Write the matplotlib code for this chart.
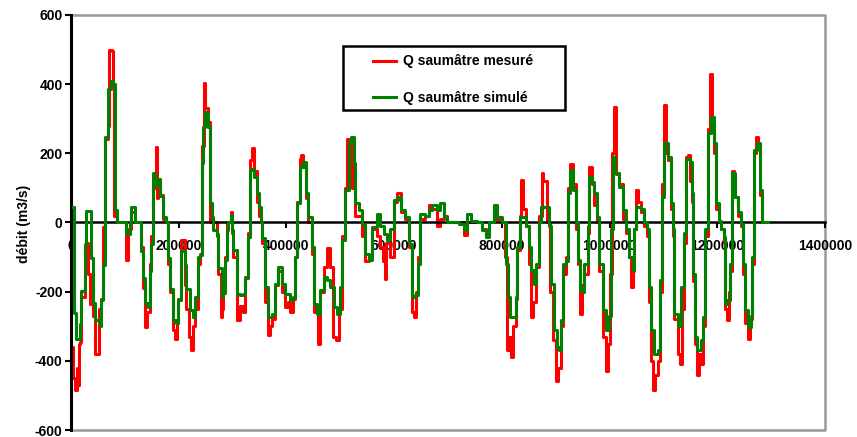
import matplotlib
matplotlib.use('Agg')
import matplotlib.pyplot as plt
from matplotlib.patches import Rectangle
from matplotlib.ticker import FuncFormatter
import numpy as np

# temps en kilosecondes et débits (m3/s)
t_mes_ks = [2, 4, 7, 11, 13, 15, 17, 19, 26, 28, 32, 35, 41, 45, 50, 52, 56, 59, 63, 69,
            71, 76, 78, 80, 85, 100, 102, 106, 111, 119, 128, 130, 134, 137, 141, 147, 149, 152, 156, 158,
            160, 162, 165, 171, 176, 180, 184, 189, 193, 197, 199, 204, 212, 214, 219, 223, 227, 230, 236, 240,
            243, 247, 249, 254, 258, 264, 271, 273, 279, 280, 282, 286, 290, 297, 299, 301, 308, 314, 319, 323,
            329, 332, 336, 340, 345, 349, 353, 355, 360, 366, 370, 373, 379, 384, 392, 397, 403, 407, 412, 416,
            420, 425, 427, 431, 436, 440, 448, 451, 459, 462, 470, 475, 481, 487, 492, 498, 503, 509, 513, 518,
            522, 527, 535, 540, 546, 553, 559, 568, 574, 579, 583, 585, 592, 600, 605, 613, 620, 628, 633, 637,
            641, 644, 648, 657, 665, 670, 680, 685, 693, 698, 721, 730, 735, 754, 763, 771, 776, 786, 800, 806,
            810, 813, 817, 821, 826, 828, 834, 836, 839, 845, 851, 854, 858, 864, 869, 875, 877, 884, 890, 895,
            901, 904, 910, 914, 919, 923, 927, 932, 938, 942, 945, 949, 953, 960, 962, 967, 971, 977, 980, 988,
            993, 997, 1001, 1005, 1008, 1012, 1018, 1025, 1031, 1036, 1040, 1044, 1045, 1049, 1053, 1058, 1064, 1070, 1073, 1077,
            1081, 1084, 1090, 1094, 1097, 1101, 1105, 1109, 1114, 1118, 1120, 1127, 1131, 1135, 1138, 1142, 1146, 1149, 1153, 1155,
            1159, 1162, 1166, 1170, 1174, 1177, 1183, 1187, 1190, 1194, 1198, 1203, 1207, 1213, 1214, 1218, 1222, 1224, 1227, 1231,
            1233, 1239, 1244, 1248, 1252, 1257, 1261, 1263, 1265, 1268, 1272, 1276, 1279, 1283, 1289]
q_mes = [-360, -450, -485, -420, -470, -350, -345, -215, -70, -60, -150, -235, -270, -380, -380, -250, -220, -13, 240, 280,
         500, 495, 390, 20, 0, 0, -109, -20, 30, 0, 0, -70, -190, -302, -260, -120, -40, 120, 100, 219,
         70, 100, 80, 10, 0, -120, -200, -312, -336, -290, -220, -50, -180, -250, -330, -370, -300, -250, -120, -90,
         220, 403, 330, 290, 0, 0, -40, -150, -273, -250, -200, -100, 0, 30, -30, -100, -283, -240, -260, -160,
         -30, 180, 214, 150, 60, 20, 0, -60, -230, -326, -300, -280, -180, -140, -200, -244, -230, -260, -220, -100,
         60, 185, 195, 160, 70, 0, -90, -260, -350, -200, -130, -75, -130, -330, -340, -250, -40, 100, 240, 240,
         100, 20, 20, -40, -110, -100, -20, -40, -70, -110, -162, -60, -100, 60, 84, 30, 10, -70, -260, -273,
         -200, -100, 10, 20, 50, 40, -10, 10, 20, 0, 0, -36, 0, 0, -20, -30, 0, 10, 0, -100,
         -370, -330, -390, -300, -220, -80, 20, 123, 40, -10, -120, -273, -230, -130, 20, 142, 120, 0, -200, -340,
         -457, -420, -300, -150, -100, 100, 170, 110, -20, -120, -264, -180, -150, -30, 160, 110, 50, 0, -140, -330,
         -428, -350, -150, 200, 335, 140, 110, 10, -30, -100, -186, -140, -20, 94, 60, 30, -10, -40, -230, -400,
         -485, -440, -400, -200, 110, 340, 200, 180, 40, -40, -280, -380, -408, -250, -60, 190, 195, 120, 60, -170,
         -350, -442, -380, -410, -300, -40, 270, 428, 280, 200, 40, 0, -20, -60, -250, -283, -200, -140, 150, 132,
         74, 20, -10, -150, -290, -336, -300, -280, -120, 200, 248, 220, 80, 0, 0]

t_sim_ks = [4, 6, 9, 17, 19, 26, 28, 35, 37, 41, 45, 54, 56, 59, 63, 69, 74, 78, 82, 85,
            100, 102, 110, 111, 119, 128, 130, 134, 137, 143, 147, 149, 152, 156, 162, 165, 171, 176, 180, 184,
            189, 195, 199, 204, 212, 214, 221, 227, 230, 236, 240, 243, 245, 249, 254, 258, 262, 264, 271, 273,
            280, 282, 286, 290, 292, 297, 299, 301, 308, 314, 319, 323, 329, 332, 336, 340, 345, 349, 353, 355,
            360, 366, 373, 379, 384, 392, 397, 407, 412, 416, 420, 425, 431, 436, 440, 448, 451, 457, 462, 470,
            475, 481, 488, 494, 500, 503, 509, 516, 520, 526, 527, 535, 540, 546, 553, 559, 568, 574, 581, 587,
            592, 600, 607, 613, 620, 628, 633, 639, 644, 648, 657, 665, 670, 680, 685, 693, 698, 711, 721, 730,
            735, 743, 754, 763, 771, 776, 786, 791, 800, 808, 812, 815, 821, 826, 828, 834, 838, 845, 851, 854,
            860, 864, 869, 873, 878, 888, 891, 897, 903, 906, 910, 914, 919, 923, 927, 932, 938, 942, 945, 951,
            953, 960, 962, 967, 971, 977, 980, 988, 993, 999, 1003, 1006, 1010, 1018, 1025, 1031, 1036, 1044, 1045, 1049,
            1058, 1064, 1070, 1073, 1077, 1083, 1090, 1094, 1097, 1101, 1109, 1114, 1118, 1120, 1127, 1133, 1138, 1142, 1149, 1153,
            1155, 1159, 1162, 1170, 1174, 1177, 1183, 1188, 1194, 1198, 1203, 1207, 1213, 1214, 1218, 1224, 1227, 1233, 1239, 1244,
            1248, 1252, 1257, 1263, 1265, 1268, 1274, 1279, 1283, 1294]
q_sim = [45, -263, -338, -293, -198, -63, 32, 32, -103, -233, -283, -298, -223, -123, 247, 387, 410, 400, 37, 0,
         0, -33, 0, 45, 0, 0, -83, -160, -233, -243, -140, -63, 142, 107, 127, 77, 17, 0, -103, -193,
         -283, -290, -223, -83, -123, -193, -253, -273, -215, -100, -95, 171, 277, 320, 277, 55, 16, -22, -32, -133,
         -215, -205, -109, -22, 0, 21, -22, -80, -206, -210, -206, -157, -42, 152, 156, 132, 84, 45, 0, -46,
         -186, -273, -265, -177, -128, -177, -206, -225, -215, -100, 55, 161, 176, 84, 16, -70, -235, -264, -196, -157,
         -165, -186, -244, -264, -186, -51, 94, 234, 248, 171, 55, 36, -3, -90, -109, -13, 26, -10, -32, -51,
         -20, 65, 74, 36, 16, -61, -215, -210, -119, 26, 20, 36, 50, 36, 55, 16, 0, 0, -3, -22,
         26, 5, 0, -22, -42, 0, 50, 16, 0, -119, -215, -273, -273, -215, -70, 16, 16, -10, -70, -138,
         -177, -119, 0, 45, 45, -10, -177, -312, -360, -370, -283, -119, -110, 84, 152, 94, 0, -109, -196, -200,
         -119, -10, 132, 118, 84, 16, -119, -254, -312, -270, -20, 190, 142, 103, 36, -20, -100, -138, -20, 45,
         40, 0, -20, -186, -312, -380, -370, -167, 74, 229, 190, 55, -20, -264, -300, -186, -30, 185, 175, 84,
         -148, -331, -370, -340, -273, -20, 258, 306, 229, 55, 5, -20, -42, -235, -225, -119, 142, 74, 31, -3,
         -119, -254, -302, -270, -100, 210, 229, 94, 0, 0]

assert len(t_mes_ks) == len(q_mes), (len(t_mes_ks), len(q_mes))
assert len(t_sim_ks) == len(q_sim), (len(t_sim_ks), len(q_sim))

t_mes = np.array(t_mes_ks) * 1000.0
t_sim = np.array(t_sim_ks) * 1000.0

plt.rcParams['font.family'] = ['Liberation Sans', 'DejaVu Sans']
plt.rcParams['font.weight'] = 'bold'
plt.rcParams['axes.unicode_minus'] = False

fig = plt.figure(figsize=(8.57, 4.37), dpi=100)
ax = fig.add_axes([0.0829, 0.0160, 0.8798, 0.9497])

ax.plot(t_mes, q_mes, color='#ff0000', lw=2.2, drawstyle='steps-post',
        label='Q saumâtre mesuré', zorder=2)
ax.plot(t_sim, q_sim, color='#008000', lw=2.2, drawstyle='steps-post',
        label='Q saumâtre simulé', zorder=3)

ax.set_xlim(0, 1400000)
ax.set_ylim(-600, 600)
ax.set_xticks(np.arange(0, 1400001, 200000))
ax.set_yticks(np.arange(-600, 601, 200))
ax.xaxis.set_major_formatter(FuncFormatter(lambda v, p: '%d' % v))

# axe des x passant par zéro
ax.spines['bottom'].set_position(('data', 0))
ax.spines['bottom'].set_color('black')
ax.spines['bottom'].set_linewidth(1.8)
ax.spines['left'].set_linewidth(2.2)
ax.spines['top'].set_visible(False)
ax.spines['right'].set_visible(False)
# cadre gris
ax.plot([0, 1, 1, 0], [1, 1, 0, 0], transform=ax.transAxes, color='#999999',
        lw=1.8, clip_on=False, zorder=1)

ax.tick_params(axis='x', direction='out', length=4, width=1.5, labelsize=10, pad=8)
ax.tick_params(axis='y', direction='out', length=4, width=1.5, labelsize=10, pad=2)
for lab in ax.get_xticklabels() + ax.get_yticklabels():
    lab.set_fontweight('bold')

fig.text(0.028, 0.487, 'débit (m3/s)', rotation=90, ha='center', va='center',
         fontsize=10, fontweight='bold')

# cadre de la légende
ax.add_patch(Rectangle((0.3607, 0.770), 0.2944, 0.156, transform=ax.transAxes,
                       facecolor='white', edgecolor='black', lw=1.8, zorder=4))
leg = ax.legend(loc='upper left', bbox_to_anchor=(0.401, 0.905), fontsize=10,
                frameon=False, handlelength=1.65, handletextpad=0.45,
                labelspacing=1.6, borderpad=0, borderaxespad=0)
leg.set_zorder(5)
for t in leg.get_texts():
    t.set_fontweight('bold')

fig.savefig('out.png', dpi=100)
